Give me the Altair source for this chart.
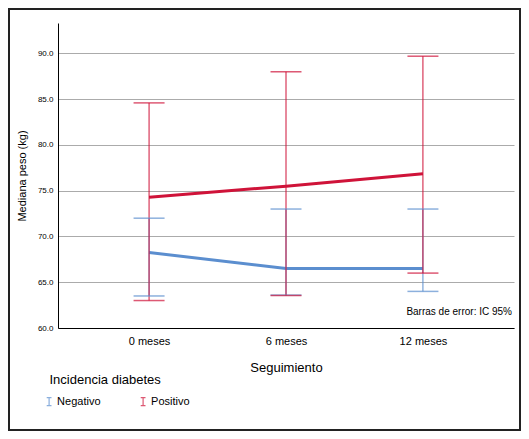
import altair as alt
import pandas as pd

meses = ["0 meses", "6 meses", "12 meses"]
grupos = ["Negativo", "Positivo"]
neg_media = [68.25, 66.5, 66.5]
neg_inf = [63.5, 63.6, 64.0]
neg_sup = [72.0, 73.0, 73.0]
pos_media = [74.3, 75.5, 76.85]
pos_inf = [63.0, 63.55, 66.0]
pos_sup = [84.6, 88.0, 89.7]
y_ticks = [60, 65, 70, 75, 80, 85, 90]
titulo_leyenda = "Incidencia diabetes"
nota = "Barras de error: IC 95%"

rows = []
for g, med, lo, hi in [("Negativo", neg_media, neg_inf, neg_sup),
                       ("Positivo", pos_media, pos_inf, pos_sup)]:
    for i, m in enumerate(meses):
        rows.append({"mes": m, "grupo": g, "media": med[i], "inf": lo[i], "sup": hi[i]})
df = pd.DataFrame(rows)

W, H = 456, 305
PL, PT, PR, PB = 50, 15, 7, 103   # canvas 513 x 423
FONT = "Liberation Sans"

blue = "#5B8ECF"
red = "#CF1339"

legend = alt.Legend(
    title=None, orient="none", legendX=-14.4, legendY=373, direction="horizontal",
    symbolType="M-0.6,-1H0.6M0,-1V1M-0.6,1H0.6", symbolSize=64, symbolStrokeWidth=1.2,
    labelFontSize=11, labelFont=FONT, labelColor="black", labelOffset=2.5,
    columnPadding=37, padding=0,
)
color = alt.Color("grupo:N", scale=alt.Scale(domain=grupos, range=[blue, red]), legend=legend)

x = alt.X("mes:N", sort=meses, scale=alt.Scale(type="point", padding=0.665),
          axis=alt.Axis(title="Seguimiento", labelAngle=0, ticks=False, labelPadding=7,
                        labelFontSize=11, titleFontSize=13, titlePadding=15,
                        titleFontWeight="normal", domainColor="black", domainWidth=1,
                        labelColor="black", titleColor="black", grid=False,
                        labelFont=FONT, titleFont=FONT))
yscale = alt.Scale(domain=[60, 93.33], nice=False, zero=False)
y = alt.Y("media:Q", scale=yscale,
          axis=alt.Axis(title="Mediana peso (kg)", values=y_ticks, format=".1f", ticks=False,
                        labelPadding=5, labelFontSize=8, titleFontSize=11, titlePadding=10,
                        titleFontWeight="normal", grid=True, gridColor="#ABABAB", gridWidth=1,
                        domainColor="black", domainWidth=1, labelColor="black",
                        titleColor="black", labelFont=FONT, titleFont=FONT))

base = alt.Chart(df)

lines = base.mark_line(strokeWidth=3).encode(x=x, y=y, color=color)
rules = base.mark_rule(strokeWidth=1).encode(x=x, y=alt.Y("inf:Q", scale=yscale), y2="sup:Q", color=color)
cap_lo = base.mark_tick(size=31, thickness=1.5).encode(x=x, y=alt.Y("inf:Q", scale=yscale), color=color)
cap_hi = base.mark_tick(size=31, thickness=1.5).encode(x=x, y=alt.Y("sup:Q", scale=yscale), color=color)

txt_df = pd.DataFrame({"t": [titulo_leyenda]})
leg_title = alt.Chart(txt_df).mark_text(align="left", baseline="alphabetic", fontSize=13,
                                        font=FONT, color="black").encode(
    text="t:N", x=alt.value(-8.5), y=alt.value(361))

nota_df = pd.DataFrame({"t": [nota]})
nota_txt = alt.Chart(nota_df).mark_text(align="right", baseline="alphabetic", fontSize=10,
                                        font=FONT, color="black").encode(
    text="t:N", x=alt.value(W - 2), y=alt.value(291.7))

frame_df = pd.DataFrame({"f": [1]})
frame = alt.Chart(frame_df).mark_rect(fill="transparent", stroke="#222222", strokeWidth=2).encode(
    x=alt.value(-PL + 1), x2=alt.value(W + PR - 1), y=alt.value(-PT + 1), y2=alt.value(H + PB - 1))

chart = alt.layer(frame, lines, rules, cap_lo, cap_hi, leg_title, nota_txt).properties(
    width=W, height=H,
    padding={"left": PL, "top": PT, "right": PR, "bottom": PB},
    autosize=alt.AutoSizeParams(type="none"),
    background="white",
).configure_view(stroke=None)

chart.save("out.html", embed_options={"renderer": "svg", "actions": False})
